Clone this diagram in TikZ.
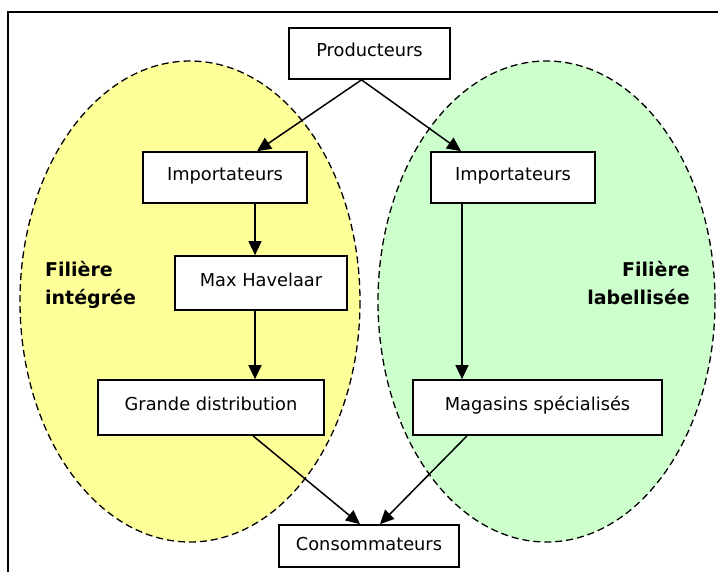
\documentclass[tikz,border=0pt]{standalone}
\usepackage{fontspec}
\setmainfont{DejaVu Sans}
\usetikzlibrary{arrows.meta,calc}
\definecolor{lyellow}{RGB}{255,255,153}
\definecolor{lgreen}{RGB}{204,255,204}
\begin{document}
\begin{tikzpicture}[x=1pt,y=-1pt,
  box/.style={draw,line width=1.7pt,fill=white,inner sep=0pt,text height=13pt,text depth=7pt,font=\fontsize{17.8}{20}\selectfont},
  arr/.style={line width=1.5pt,-{Triangle[length=14pt,width=13pt]}},
  zone/.style={dashed,dash pattern=on 7pt off 4pt,line width=1.3pt},
  lab/.style={inner sep=0pt,font=\fontsize{19}{28}\selectfont\bfseries}]
\useasboundingbox (0,0) rectangle (718,571);
\fill[white] (0,0) rectangle (718,571);
\draw[line width=1.7pt] (8,575) -- (8,12) -- (722,12);
\draw[zone,fill=lyellow] (190,301.5) ellipse [x radius=170, y radius=240.5];
\draw[zone,fill=lgreen] (546.5,301.5) ellipse [x radius=168.5, y radius=240.5];
\node[box,minimum width=161pt,minimum height=51pt] (prod) at (369.5,53.5) {Producteurs};
\node[box,minimum width=164pt,minimum height=51pt] (impL) at (225,177.5) {Importateurs};
\node[box,minimum width=164pt,minimum height=51pt] (impR) at (513,177.5) {Importateurs};
\node[box,minimum width=172pt,minimum height=54pt] (mh) at (261,283) {Max Havelaar};
\node[box,minimum width=226pt,minimum height=55pt] (gd) at (211,407.5) {Grande distribution};
\node[box,minimum width=249pt,minimum height=55pt] (mag) at (537.5,407.5) {Magasins spécialisés};
\node[box,minimum width=180pt,minimum height=42pt,text depth=4pt,text height=13pt] (cons) at (369,546) {Consommateurs};
\node[lab,align=left,anchor=north west] (li) at (45,261) {Filière\\intégrée};
\node[lab,align=right,anchor=north east] (lb) at (690,261) {Filière\\labellisée};
\draw[arr] ($(prod.south)+(-8,0)$) -- ($(impL.north)+(32,0)$);
\draw[arr] ($(prod.south)+(-8,0)$) -- ($(impR.north)+(-52,0)$);
\draw[arr] ($(impL.south)+(30,0)$) -- ($(mh.north)+(-6,0)$);
\draw[arr] ($(mh.south)+(-6,0)$) -- ($(gd.north)+(44,0)$);
\draw[arr] ($(impR.south)+(-51,0)$) -- ($(mag.north)+(-75.5,0)$);
\draw[arr] ($(gd.south)+(42,0)$) -- ($(cons.north)+(-9,0)$);
\draw[arr] ($(mag.south)+(-70.5,0)$) -- ($(cons.north)+(11,0)$);
\end{tikzpicture}
\end{document}
